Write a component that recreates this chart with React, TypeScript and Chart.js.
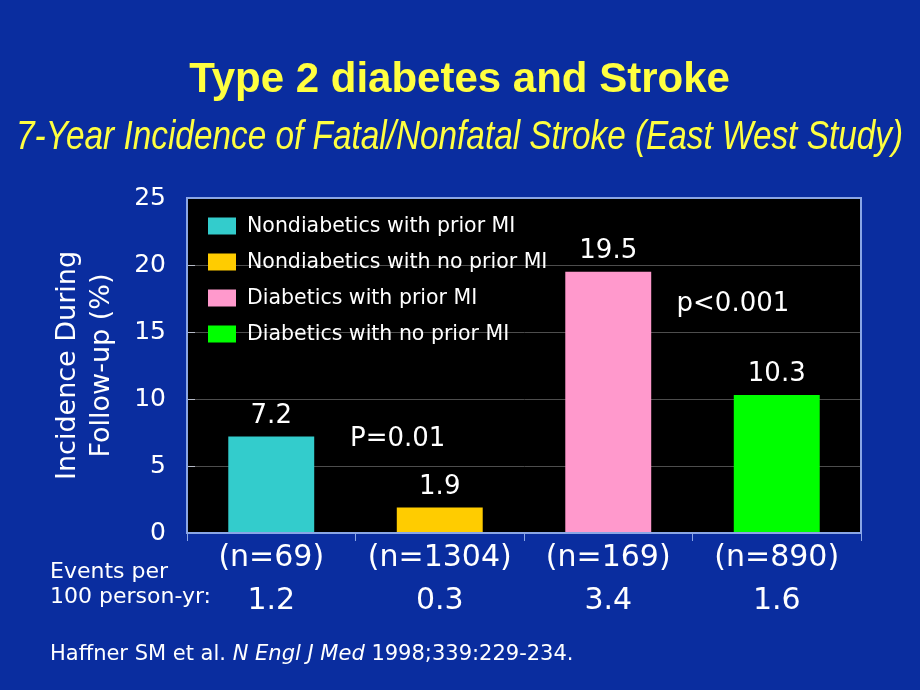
import React, { useEffect, useRef } from "react";
import { Chart, registerables } from "chart.js";

Chart.register(...registerables);

// ---- data ----
const groups = [
  "Nondiabetics with prior MI",
  "Nondiabetics with no prior MI",
  "Diabetics with prior MI",
  "Diabetics with no prior MI",
];
const sampleSizes = ["(n=69)", "(n=1304)", "(n=169)", "(n=890)"];
const eventsPer100 = ["1.2", "0.3", "3.4", "1.6"];
const incidence = [7.2, 1.9, 19.5, 10.3];
const barColors = ["#33CCCC", "#FFCC00", "#FF99CC", "#00FF00"];
const yTickValues = [0, 5, 10, 15, 20, 25];
const pLabels = ["P=0.01", "p<0.001"];
const pAt = [0.75, 2.74]; // category position (fractional index)
const pValue = [6.5, 16.6]; // y value at text baseline
const titleText = "Type 2 diabetes and Stroke";
const subtitleText = "7-Year Incidence of Fatal/Nonfatal Stroke (East West Study)";
const yTitle = ["Incidence During", "Follow-up (%)"];
const rowLabel = ["Events per", "100 person-yr:"];
const citationParts = ["Haffner SM et al. ", "N Engl J Med", " 1998;339:229-234."];
const citationItalic = [false, true, false];

// ---- styles ----
const BG = "#0a2d9f";
const FRAME = "#8aa6e6";
const YELLOW = "#FFFF40";
const SANS = "'DejaVu Sans', Verdana, sans-serif";
const PAD_L = 16;
const PAD_R = 17;

const decor = {
  id: "decor",
  beforeDraw(chart: any) {
    const { ctx, chartArea: a } = chart;
    ctx.save();
    ctx.fillStyle = BG;
    ctx.fillRect(0, 0, chart.width, chart.height);
    ctx.fillStyle = "#000";
    ctx.fillRect(a.left, a.top, a.right - a.left, a.bottom - a.top);
    ctx.restore();
  },
  afterDatasetsDraw(chart: any) {
    const { ctx, chartArea: a } = chart;
    const meta = chart.getDatasetMeta(0);
    const xs = chart.scales.x;
    const ys = chart.scales.y;
    ctx.save();
    // inner tick marks on y axis
    ctx.strokeStyle = "#b8bcc8";
    ctx.lineWidth = 1;
    yTickValues.forEach((v) => {
      const py = Math.round(ys.getPixelForValue(v)) + 0.5;
      ctx.beginPath();
      ctx.moveTo(a.left, py);
      ctx.lineTo(a.left + 8, py);
      ctx.stroke();
    });
    // value labels
    ctx.fillStyle = "#fff";
    ctx.font = `26px ${SANS}`;
    ctx.textAlign = "center";
    ctx.textBaseline = "alphabetic";
    meta.data.forEach((bar: any, i: number) => {
      ctx.fillText(incidence[i].toFixed(1), bar.x, bar.y - 14);
    });
    // p-value annotations
    pLabels.forEach((t, i) => {
      ctx.fillText(t, xs.getPixelForValue(pAt[i]), ys.getPixelForValue(pValue[i]));
    });
    // legend inside plot area
    ctx.font = `20.5px ${SANS}`;
    ctx.textAlign = "left";
    ctx.textBaseline = "middle";
    groups.forEach((g, i) => {
      const cy = a.top + 28 + i * 36;
      ctx.fillStyle = barColors[i];
      ctx.fillRect(a.left + 21, cy - 8.5, 28, 17);
      ctx.fillStyle = "#fff";
      ctx.fillText(g, a.left + 60, cy + 1);
    });
    ctx.restore();
  },
  afterDraw(chart: any) {
    const { ctx, chartArea: a } = chart;
    ctx.save();
    ctx.strokeStyle = FRAME;
    ctx.lineWidth = 2;
    ctx.strokeRect(a.left, a.top, a.right - a.left, a.bottom - a.top);
    ctx.fillStyle = "#fff";
    ctx.textAlign = "left";
    ctx.textBaseline = "alphabetic";
    ctx.font = `22px ${SANS}`;
    ctx.fillText(rowLabel[0], 50, 578);
    ctx.fillText(rowLabel[1], 50, 603);
    let x = 50;
    citationParts.forEach((p, i) => {
      ctx.font = `${citationItalic[i] ? "italic " : ""}21px ${SANS}`;
      ctx.fillText(p, x, 660);
      x += ctx.measureText(p).width;
    });
    ctx.restore();
  },
};

export default function App() {
  const ref = useRef<HTMLCanvasElement>(null);
  useEffect(() => {
    if (!ref.current) return;
    const chart = new Chart(ref.current, {
      type: "bar",
      data: {
        labels: sampleSizes.map((s, i) => [s, eventsPer100[i]]),
        datasets: [
          {
            data: incidence,
            backgroundColor: barColors,
            borderWidth: 0,
            barPercentage: 0.51,
            categoryPercentage: 1,
            yAxisID: "y",
          },
        ],
      },
      options: {
        responsive: false,
        animation: false,
        layout: { padding: { left: PAD_L, right: PAD_R, top: 0, bottom: 0 } },
        plugins: {
          tooltip: { enabled: false },
          legend: { display: false },
          title: {
            display: true,
            text: titleText,
            color: YELLOW,
            font: { family: "'Liberation Sans', Arial, sans-serif", weight: "bold", size: 42, lineHeight: 1.2 },
            padding: { top: 55, bottom: 0 },
          },
          subtitle: {
            display: true,
            text: subtitleText,
            color: YELLOW,
            font: {
              family: "'Liberation Sans Narrow', 'Arial Narrow', 'Liberation Sans', sans-serif",
              style: "italic",
              size: 40,
              lineHeight: 1.2,
            },
            padding: { top: 8, bottom: 36.6 },
          },
        },
        scales: {
          x: {
            offset: true,
            grid: {
              display: true,
              offset: true,
              drawOnChartArea: false,
              drawTicks: true,
              tickLength: 8,
              tickColor: FRAME,
              color: FRAME,
            },
            border: { display: true, color: FRAME, width: 2 },
            ticks: {
              color: "#fff",
              font: { family: SANS, size: 30, lineHeight: 1.43 },
              padding: -4,
              maxRotation: 0,
              autoSkip: false,
            },
            afterFit: (s: any) => {
              s.height = 157;
            },
          },
          y: {
            position: "left",
            min: 0,
            max: 25,
            ticks: {
              stepSize: 5,
              color: "#fff",
              font: { family: SANS, size: 25 },
              padding: 21,
            },
            grid: { color: "#4d4d4d", drawTicks: false },
            border: { display: true, color: FRAME, width: 2 },
            title: {
              display: true,
              text: yTitle,
              color: "#fff",
              font: { family: SANS, size: 27, lineHeight: 1.25 },
              padding: { top: 51 - PAD_L, bottom: 0 },
            },
            afterFit: (s: any) => {
              s.width = 187 - PAD_L;
            },
          },
          y2: {
            position: "right",
            display: true,
            grid: { display: false, drawTicks: false },
            border: { display: false },
            ticks: { display: false },
            afterFit: (s: any) => {
              s.width = 59 - PAD_R;
            },
          },
        },
      } as any,
      plugins: [decor],
    });
    return () => chart.destroy();
  }, []);
  return (
    <div style={{ position: "fixed", left: 0, top: 0, width: 920, height: 690, background: BG }}>
      <canvas ref={ref} width={920} height={690} style={{ display: "block" }} />
    </div>
  );
}
